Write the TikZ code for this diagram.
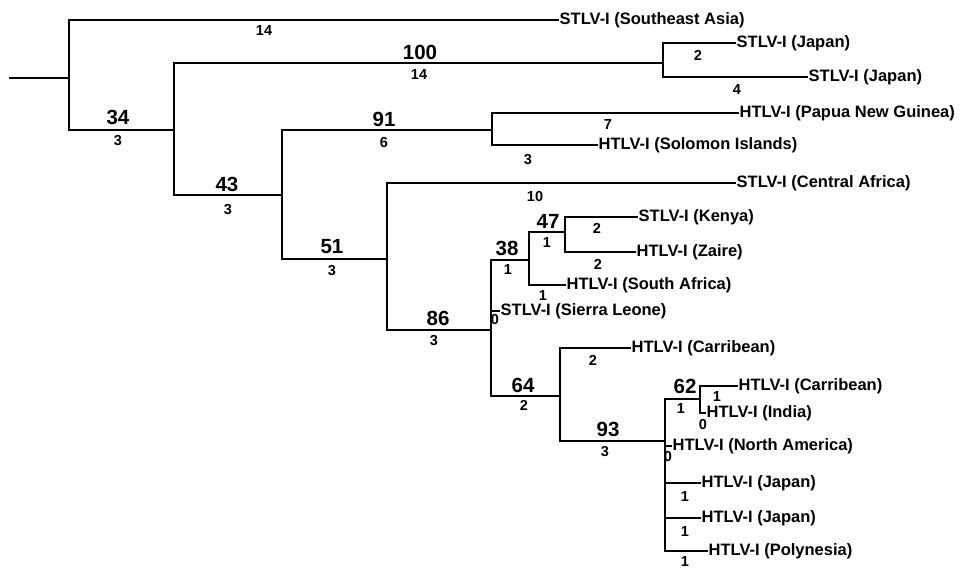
\documentclass[tikz,border=0pt]{standalone}
\usepackage{fontspec}
\setmainfont{Liberation Sans}
\usetikzlibrary{positioning}

\tikzset{
  br/.style={line width=2.6pt, line cap=rect},
  leaf/.style={anchor=west, inner sep=1.5pt, font=\fontsize{16.5}{18}\selectfont\bfseries},
  boot/.style={inner sep=0pt, font=\fontsize{20.5}{22}\selectfont\bfseries},
  blen/.style={inner sep=0pt, font=\fontsize{14.5}{16}\selectfont\bfseries}
}

\begin{document}
\begin{tikzpicture}[x=1pt, y=-1pt]
\useasboundingbox (0,0) rectangle (967,570);

% internal nodes
\coordinate (root) at (10,78);
\coordinate (nA) at (69,78);
\coordinate (nB) at (174,130);
\coordinate (nC) at (663,63);
\coordinate (nD) at (282,195);
\coordinate (nE) at (492,130);
\coordinate (nF) at (387,259);
\coordinate (nG) at (491,330);
\coordinate (nH) at (529,260);
\coordinate (nI) at (565,232);
\coordinate (nJ) at (560,396);
\coordinate (nK) at (665,441);
\coordinate (nL) at (700,399);

% leaves
\node[leaf] (sea) at (558,20) {STLV-I (Southeast Asia)};
\node[leaf] (jp1) at (735,43) {STLV-I (Japan)};
\node[leaf] (jp2) at (807,77) {STLV-I (Japan)};
\node[leaf] (png) at (738,113) {HTLV-I (Papua New Guinea)};
\node[leaf] (sol) at (597,145) {HTLV-I (Solomon Islands)};
\node[leaf] (caf) at (735,183) {STLV-I (Central Africa)};
\node[leaf] (ken) at (637,217) {STLV-I (Kenya)};
\node[leaf] (zai) at (635,252) {HTLV-I (Zaire)};
\node[leaf] (saf) at (565,285) {HTLV-I (South Africa)};
\node[leaf] (sle) at (499,311) {STLV-I (Sierra Leone)};
\node[leaf] (car1) at (630,348) {HTLV-I (Carribean)};
\node[leaf] (car2) at (737,386) {HTLV-I (Carribean)};
\node[leaf] (ind) at (705,413) {HTLV-I (India)};
\node[leaf] (nam) at (671,446) {HTLV-I (North America)};
\node[leaf] (jp3) at (700,483) {HTLV-I (Japan)};
\node[leaf] (jp4) at (700,518) {HTLV-I (Japan)};
\node[leaf] (pol) at (707,551) {HTLV-I (Polynesia)};

% branches
\draw[br] (root) -- (nA);
\draw[br] (nA) |- (sea.west);
\draw[br] (nA) |- (nB);
\draw[br] (nB) |- (nC);
\draw[br] (nB) |- (nD);
\draw[br] (nC) |- (jp1.west);
\draw[br] (nC) |- (jp2.west);
\draw[br] (nD) |- (nE);
\draw[br] (nD) |- (nF);
\draw[br] (nE) |- (png.west);
\draw[br] (nE) |- (sol.west);
\draw[br] (nF) |- (caf.west);
\draw[br] (nF) |- (nG);
\draw[br] (nG) |- (nH);
\draw[br] (nG) |- (sle.west);
\draw[br] (nG) |- (nJ);
\draw[br] (nH) |- (nI);
\draw[br] (nH) |- (saf.west);
\draw[br] (nI) |- (ken.west);
\draw[br] (nI) |- (zai.west);
\draw[br] (nJ) |- (car1.west);
\draw[br] (nJ) |- (nK);
\draw[br] (nK) |- (nL);
\draw[br] (nK) |- (nam.west);
\draw[br] (nK) |- (jp3.west);
\draw[br] (nK) |- (jp4.west);
\draw[br] (nK) |- (pol.west);
\draw[br] (nL) |- (car2.west);
\draw[br] (nL) |- (ind.west);

% bootstrap values
\node[boot] (bAB) at (118,117) {34};
\node[boot] (bBC) at (420,52) {100};
\node[boot] (bBD) at (227,184) {43};
\node[boot] (bDE) at (384,119) {91};
\node[boot] (bDF) at (332,247) {51};
\node[boot] (bFG) at (438,318) {86};
\node[boot] (bGH) at (507,248) {38};
\node[boot] (bHI) at (548,221) {47};
\node[boot] (bGJ) at (523,385) {64};
\node[boot] (bJK) at (608,429) {93};
\node[boot] (bKL) at (685,386) {62};

% branch lengths
\node[blen] (lsea) at (264,31) {14};
\node[blen] (lAB) at (118,141) {3};
\node[blen] (lBC) at (419,75) {14};
\node[blen] (ljp1) at (698,55) {2};
\node[blen] (ljp2) at (737,90) {4};
\node[blen] (lBD) at (228,210) {3};
\node[blen] (lDE) at (384,143) {6};
\node[blen] (lpng) at (608,125) {7};
\node[blen] (lsol) at (528,160) {3};
\node[blen] (lDF) at (332,271) {3};
\node[blen] (lcaf) at (535,197) {10};
\node[blen] (lFG) at (434,341) {3};
\node[blen] (lGH) at (508,270) {1};
\node[blen] (lHI) at (547,243) {1};
\node[blen] (lken) at (597,228) {2};
\node[blen] (lzai) at (598,264) {2};
\node[blen] (lsaf) at (543,296) {1};
\node[blen] (lsle) at (495,320) {0};
\node[blen] (lGJ) at (524,405) {2};
\node[blen] (lcar1) at (593,360) {2};
\node[blen] (lJK) at (605,452) {3};
\node[blen] (lKL) at (681,409) {1};
\node[blen] (lcar2) at (717,397) {1};
\node[blen] (lind) at (703,425) {0};
\node[blen] (lnam) at (668,457) {0};
\node[blen] (ljp3) at (685,497) {1};
\node[blen] (ljp4) at (685,532) {1};
\node[blen] (lpol) at (685,562) {1};
\end{tikzpicture}
\end{document}
